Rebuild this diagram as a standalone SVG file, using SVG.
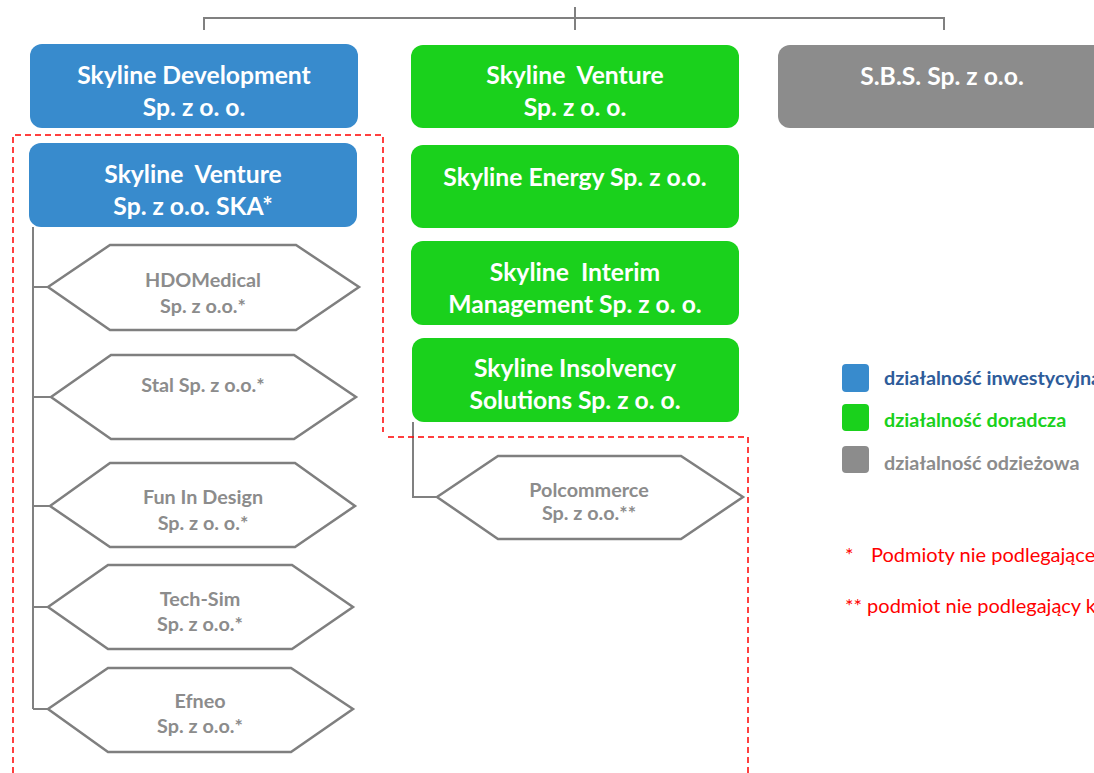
<svg xmlns="http://www.w3.org/2000/svg" width="1094" height="773" viewBox="0 0 1094 773">
<style>
text{font-family:Lato,"Open Sans","Liberation Sans",sans-serif;white-space:pre}
.bt{font-size:24.7px;font-weight:bold;fill:#fff;text-anchor:middle}
.ht{font-size:19.8px;font-weight:bold;fill:#8c8c8c;text-anchor:middle}
.hex{fill:#fff;stroke:#7f7f7f;stroke-width:2.5}
.conn{fill:none;stroke:#808080;stroke-width:2}
.red{fill:none;stroke:#ff0000;stroke-width:1.5;stroke-dasharray:6 4}
.blue{fill:#388bcd}
.green{fill:#1ad11c}
.gray{fill:#8c8c8c}
.lg{font-size:19.8px;font-weight:bold}
.rt{font-size:20px;fill:#ff0000}
</style>
<rect width="1094" height="773" fill="#fff"/>
<g id="connectors">
<path class="conn" d="M204,30 V18 H944 V30 M575,7 V30"/>
<path class="conn" d="M33,227 V709 M33,287 H48 M33,397 H51 M33,506 H50 M33,607 H48 M33,709 H48"/>
<path class="conn" d="M413,422 V497 H437"/>
</g>
<g id="boundary">
<path class="red" d="M13,773 V135 H383 V432"/>
<path class="red" d="M388,437 H748 V773"/>
</g>
<g id="skyline-development">
<rect class="blue" x="30" y="44" width="328" height="84" rx="12"/>
<text class="bt" x="194" y="84">Skyline Development</text>
<text class="bt" x="194" y="116">Sp. z o. o.</text>
</g>
<g id="skyline-venture">
<rect class="green" x="411" y="45" width="328" height="83" rx="12"/>
<text class="bt" x="575" y="84">Skyline  Venture</text>
<text class="bt" x="575" y="116">Sp. z o. o.</text>
</g>
<g id="sbs">
<rect class="gray" x="778" y="45" width="330" height="83" rx="12"/>
<text class="bt" x="942" y="85">S.B.S. Sp. z o.o.</text>
</g>
<g id="skyline-venture-ska">
<rect class="blue" x="29" y="143" width="328" height="84" rx="12"/>
<text class="bt" x="193" y="183">Skyline  Venture</text>
<text class="bt" x="193" y="215">Sp. z o.o. SKA*</text>
</g>
<g id="hdomedical">
<polygon class="hex" points="48,287 110,245 296,245 359,287 296,330 110,330"/>
<text class="ht" x="203" y="287">HDOMedical</text>
<text class="ht" x="203" y="313">Sp. z o.o.*</text>
</g>
<g id="stal">
<polygon class="hex" points="51,397 111,355 294,355 356,397 294,439 111,439"/>
<text class="ht" x="203" y="392">Stal Sp. z o.o.*</text>
</g>
<g id="fun-in-design">
<polygon class="hex" points="50,506 110,463 295,463 355,506 295,547 110,547"/>
<text class="ht" x="203" y="504">Fun In Design</text>
<text class="ht" x="203" y="530">Sp. z o. o.*</text>
</g>
<g id="tech-sim">
<polygon class="hex" points="48,607 108,565 292,565 353,607 292,649 108,649"/>
<text class="ht" x="200" y="606">Tech-Sim</text>
<text class="ht" x="200" y="631">Sp. z o.o.*</text>
</g>
<g id="efneo">
<polygon class="hex" points="48,709 108,668 291,668 353,709 291,752 108,752"/>
<text class="ht" x="200" y="708">Efneo</text>
<text class="ht" x="200" y="733">Sp. z o.o.*</text>
</g>
<g id="skyline-energy">
<rect class="green" x="411" y="145" width="328" height="83" rx="12"/>
<text class="bt" x="575" y="186">Skyline Energy Sp. z o.o.</text>
</g>
<g id="skyline-interim">
<rect class="green" x="411" y="241" width="328" height="84" rx="12"/>
<text class="bt" x="575" y="281">Skyline  Interim</text>
<text class="bt" x="575" y="313">Management Sp. z o. o.</text>
</g>
<g id="skyline-insolvency">
<rect class="green" x="412" y="338" width="327" height="84" rx="12"/>
<text class="bt" x="575" y="377">Skyline Insolvency</text>
<text class="bt" x="575" y="409">Solutions Sp. z o. o.</text>
</g>
<g id="polcommerce">
<polygon class="hex" points="437,497 498,456 681,456 743,497 681,539 498,539"/>
<text class="ht" x="589" y="497">Polcommerce</text>
<text class="ht" x="589" y="520">Sp. z o.o.**</text>
</g>
<g id="legend">
<rect class="blue" x="842" y="364" width="27" height="28" rx="4"/>
<text class="lg" x="884" y="385" fill="#2e5c9a">działalność inwestycyjna</text>
<rect class="green" x="842" y="404" width="27" height="27" rx="4"/>
<text class="lg" x="884" y="427" fill="#1ad11c">działalność doradcza</text>
<rect class="gray" x="842" y="446" width="27" height="27" rx="4"/>
<text class="lg" x="884" y="470" fill="#8c8c8c">działalność odzieżowa</text>
<text class="rt" x="845" y="562">*</text>
<text class="rt" x="871" y="562">Podmioty nie podlegające</text>
<text class="rt" x="845" y="613">** podmiot nie podlegający k</text>
</g>
</svg>
